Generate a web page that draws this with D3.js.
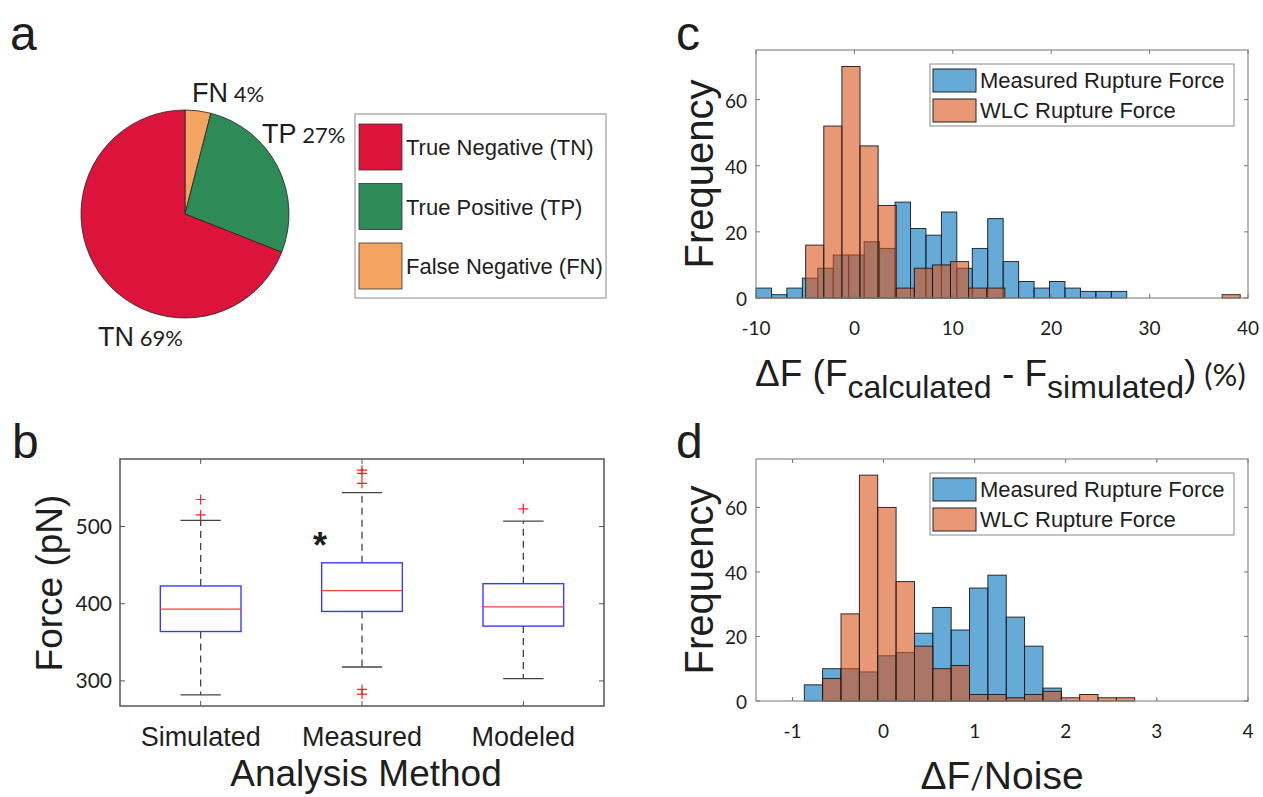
<!DOCTYPE html>
<html>
<head>
<meta charset="utf-8">
<script src="https://cdn.jsdelivr.net/npm/d3@7/dist/d3.min.js"></script>
<style>
  body { margin: 0; background: #fff; }
  text { fill: #1e1e1e; }
</style>
</head>
<body>
<div id="fig"></div>
<script>
// panel a
const pieKeys = ["FN", "TP", "TN"];
const pieValues = [4, 27, 69];
const legendKeys = ["TN", "TP", "FN"];
const legendLabels = ["True Negative (TN)", "True Positive (TP)", "False Negative (FN)"];

// panel b
const boxCategories = ["Simulated", "Measured", "Modeled"];
const boxQ1 = [364, 390, 371];
const boxMedian = [393, 417, 396];
const boxQ3 = [423, 453, 426];
const whiskerLow = [282, 318, 303];
const whiskerHigh = [508, 544, 507];
const boxOutliers = [[535, 515], [573, 569, 556, 289, 283], [523]];
const boxTicks = [300, 400, 500];

// panel c  (bin start, bin width, counts)
const cMeasuredStart = -10, cMeasuredWidth = 1.57;
const cMeasured = [3, 1, 3, 6, 9, 13, 13, 17, 15, 29, 21, 19, 26, 9, 15, 24, 11, 5, 3, 5, 3, 2, 2, 2];
const cWlcStart = -4.95, cWlcWidth = 1.84;
const cWlc = [16, 52, 70, 46, 28, 3, 9, 10, 11, 3, 3, 0, 0, 0, 0, 0, 0, 0, 0, 0, 0, 0, 0, 1];
const cTicksX = [-10, 0, 10, 20, 30, 40];

// panel d
const dMeasuredStart = -0.87, dMeasuredWidth = 0.2015;
const dMeasured = [5, 10, 10, 9, 14, 15, 21, 29, 22, 35, 39, 26, 17, 4];
const dWlcStart = -0.6685, dWlcWidth = 0.2015;
const dWlc = [7, 27, 70, 60, 37, 17, 10, 11, 2, 2, 1, 2, 3, 1, 2, 1, 1];
const dTicksX = [-1, 0, 1, 2, 3, 4];

const freqTicks = [0, 20, 40, 60];
const seriesNames = ["Measured Rupture Force", "WLC Rupture Force"];

const width = 1263, height = 797;
const sans = "'Liberation Sans', Arial, sans-serif";
const humanist = "Lato, 'Open Sans', sans-serif";

const svg = d3.select("#fig").append("svg")
  .attr("width", width)
  .attr("height", height)
  .style("display", "block");

svg.append("rect").attr("width", width).attr("height", height).attr("fill", "#fff");

function panelLetter(letter, x, y) {
  svg.append("text").attr("x", x).attr("y", y)
    .style("font-family", sans).style("font-size", "48px")
    .text(letter);
}

// ---------- a: pie ----------
panelLetter("a", 10, 50);

const pieColors = { TN: "#DC143C", TP: "#2E8B57", FN: "#F4A460" };
const pieR = 104;
const pieG = svg.append("g").attr("transform", "translate(185,214)");
const arcs = d3.pie().sort(null).value(d => d)(pieValues);
const arcGen = d3.arc().innerRadius(0).outerRadius(pieR);

pieG.selectAll("path")
  .data(arcs)
  .enter()
  .append("path")
  .attr("d", arcGen)
  .attr("fill", (d, i) => pieColors[pieKeys[i]])
  .attr("stroke", "#222")
  .attr("stroke-width", 0.8);

// label spots (hand placed like the figure)
const pieLabelPos = { FN: [192, 102], TP: [262, 143], TN: [98, 346] };
arcs.forEach((a, i) => {
  const k = pieKeys[i];
  const t = svg.append("text")
    .attr("x", pieLabelPos[k][0]).attr("y", pieLabelPos[k][1]);
  t.append("tspan").style("font-family", sans).style("font-size", "27px").text(k);
  t.append("tspan").style("font-family", humanist).style("font-size", "22px")
    .text(" " + pieValues[i] + "%");
});

// legend
const lg = svg.append("g");
lg.append("rect").attr("x", 355).attr("y", 114).attr("width", 251).attr("height", 184)
  .attr("fill", "#fff").attr("stroke", "#888").attr("stroke-width", 1);
legendKeys.forEach((k, i) => {
  const y0 = 124 + i * 59.5;
  lg.append("rect").attr("x", 359).attr("y", y0).attr("width", 43).attr("height", 46)
    .attr("fill", pieColors[k]).attr("stroke", "#333").attr("stroke-width", 0.8);
  lg.append("text").attr("x", 406).attr("y", y0 + 31)
    .style("font-family", sans).style("font-size", "22px")
    .text(legendLabels[i]);
});

// ---------- b: box plot ----------
panelLetter("b", 12, 458);

const bLeft = 120, bRight = 604, bTop = 459, bBottom = 706;
const bx = d3.scaleLinear().domain([0.5, 3.5]).range([bLeft, bRight]);
const by = d3.scaleLinear().domain([267.5, 587.5]).range([bBottom, bTop]);
const bG = svg.append("g");

// ticks inward on all sides
boxTicks.forEach(v => {
  bG.append("line").attr("x1", bLeft).attr("x2", bLeft + 5).attr("y1", by(v)).attr("y2", by(v))
    .attr("stroke", "#555");
  bG.append("line").attr("x1", bRight).attr("x2", bRight - 5).attr("y1", by(v)).attr("y2", by(v))
    .attr("stroke", "#555");
  bG.append("text").attr("x", bLeft - 8).attr("y", by(v) + 7).attr("text-anchor", "end")
    .style("font-family", humanist).style("font-size", "21px").text(v);
});
boxCategories.forEach((c, i) => {
  const cx = bx(i + 1);
  bG.append("line").attr("x1", cx).attr("x2", cx).attr("y1", bBottom).attr("y2", bBottom - 5).attr("stroke", "#555");
  bG.append("line").attr("x1", cx).attr("x2", cx).attr("y1", bTop).attr("y2", bTop + 5).attr("stroke", "#555");
  bG.append("text").attr("x", cx).attr("y", 746).attr("text-anchor", "middle")
    .style("font-family", sans).style("font-size", "27px").text(c);
});

boxCategories.forEach((c, i) => {
  const cx = bx(i + 1);
  const half = bx(1.25) - bx(1);
  const cap = bx(1.125) - bx(1);
  // whiskers
  [[boxQ3[i], whiskerHigh[i]], [boxQ1[i], whiskerLow[i]]].forEach(([a, b]) => {
    bG.append("line").attr("x1", cx).attr("x2", cx).attr("y1", by(a)).attr("y2", by(b))
      .attr("stroke", "#444").attr("stroke-width", 1.3).attr("stroke-dasharray", "7,5");
    bG.append("line").attr("x1", cx - cap).attr("x2", cx + cap).attr("y1", by(b)).attr("y2", by(b))
      .attr("stroke", "#444").attr("stroke-width", 1.3);
  });
  bG.append("rect").attr("x", cx - half).attr("width", 2 * half)
    .attr("y", by(boxQ3[i])).attr("height", by(boxQ1[i]) - by(boxQ3[i]))
    .attr("fill", "none").attr("stroke", "#3a3aff").attr("stroke-width", 1.4);
  bG.append("line").attr("x1", cx - half).attr("x2", cx + half)
    .attr("y1", by(boxMedian[i])).attr("y2", by(boxMedian[i]))
    .attr("stroke", "#ff3b3b").attr("stroke-width", 1.2);
  boxOutliers[i].forEach(v => {
    bG.append("path")
      .attr("d", `M${cx - 5},${by(v)}H${cx + 5}M${cx},${by(v) - 5}V${by(v) + 5}`)
      .attr("stroke", "#ff2020").attr("stroke-width", 1.2);
  });
});

bG.append("rect").attr("x", bLeft).attr("y", bTop).attr("width", bRight - bLeft).attr("height", bBottom - bTop)
  .attr("fill", "none").attr("stroke", "#555").attr("stroke-width", 1.5);

bG.append("text").attr("x", 320).attr("y", 558).attr("text-anchor", "middle")
  .style("font-family", sans).style("font-size", "36px").style("font-weight", "bold").text("*");

bG.append("text").attr("transform", "translate(62,583) rotate(-90)").attr("text-anchor", "middle")
  .style("font-family", sans).style("font-size", "37px").text("Force (pN)");
bG.append("text").attr("x", 366).attr("y", 786).attr("text-anchor", "middle")
  .style("font-family", sans).style("font-size", "37px").text("Analysis Method");

// ---------- c, d: histograms ----------
function histogram(o) {
  const x = d3.scaleLinear().domain(o.xDomain).range([o.left, o.right]);
  const y = d3.scaleLinear().domain([0, 75]).range([o.bottom, o.top]);
  const g = svg.append("g");

  const series = [
    { start: o.mStart, w: o.mWidth, counts: o.measured, color: "#0072BD" },
    { start: o.wStart, w: o.wWidth, counts: o.wlc, color: "#D95319" }
  ];
  series.forEach(s => {
    const bins = s.counts.map((c, i) => ({ x0: s.start + i * s.w, x1: s.start + (i + 1) * s.w, c: c }))
      .filter(b => b.c > 0);
    g.append("g").selectAll("rect")
      .data(bins)
      .enter()
      .append("rect")
      .attr("x", d => x(d.x0))
      .attr("width", d => x(d.x1) - x(d.x0))
      .attr("y", d => y(d.c))
      .attr("height", d => y(0) - y(d.c))
      .attr("fill", s.color)
      .attr("fill-opacity", 0.6)
      .attr("stroke", "#1a1a1a")
      .attr("stroke-width", 0.9);
  });

  // frame + inward ticks
  g.append("rect").attr("x", o.left).attr("y", o.top).attr("width", o.right - o.left).attr("height", o.bottom - o.top)
    .attr("fill", "none").attr("stroke", "#8a8a8a").attr("stroke-width", 1.2);
  o.xTicks.forEach(v => {
    g.append("line").attr("x1", x(v)).attr("x2", x(v)).attr("y1", o.bottom).attr("y2", o.bottom - 4).attr("stroke", "#777");
    g.append("line").attr("x1", x(v)).attr("x2", x(v)).attr("y1", o.top).attr("y2", o.top + 4).attr("stroke", "#777");
    g.append("text").attr("x", x(v)).attr("y", o.bottom + 37).attr("text-anchor", "middle")
      .style("font-family", humanist).style("font-size", "19px").text(v);
  });
  freqTicks.forEach(v => {
    g.append("line").attr("x1", o.left).attr("x2", o.left + 4).attr("y1", y(v)).attr("y2", y(v)).attr("stroke", "#777");
    g.append("line").attr("x1", o.right).attr("x2", o.right - 4).attr("y1", y(v)).attr("y2", y(v)).attr("stroke", "#777");
    g.append("text").attr("x", o.left - 9).attr("y", y(v) + 8).attr("text-anchor", "end")
      .style("font-family", humanist).style("font-size", "19px").text(v);
  });

  // legend
  const lx = 930, ly = o.top + 14;
  g.append("rect").attr("x", lx).attr("y", ly).attr("width", 304).attr("height", 62)
    .attr("fill", "#fff").attr("stroke", "#888");
  series.forEach((s, i) => {
    g.append("rect").attr("x", lx + 3).attr("y", ly + 5 + i * 30).attr("width", 43).attr("height", 23)
      .attr("fill", s.color).attr("fill-opacity", 0.6).attr("stroke", "#222");
    g.append("text").attr("x", lx + 50).attr("y", ly + 24 + i * 30)
      .style("font-family", sans).style("font-size", "22px").text(seriesNames[i]);
  });

  g.append("text").attr("transform", `translate(713,${(o.top + o.bottom) / 2}) rotate(-90)`).attr("text-anchor", "middle")
    .style("font-family", sans).style("font-size", "40px").text("Frequency");
  return g;
}

panelLetter("c", 676, 50);
const gc = histogram({
  left: 756, right: 1248, top: 50, bottom: 298, xDomain: [-10, 40], xTicks: cTicksX,
  mStart: cMeasuredStart, mWidth: cMeasuredWidth, measured: cMeasured,
  wStart: cWlcStart, wWidth: cWlcWidth, wlc: cWlc
});
const ct = gc.append("text").attr("x", 755).attr("y", 386).style("font-family", sans);
ct.append("tspan").style("font-size", "37px").text("\u0394F (F");
ct.append("tspan").style("font-size", "32px").attr("dy", 12).text("calculated");
ct.append("tspan").style("font-size", "37px").attr("dy", -12).text(" - F");
ct.append("tspan").style("font-size", "32px").attr("dy", 12).text("simulated");
ct.append("tspan").style("font-size", "37px").attr("dy", -12).text(")");
ct.append("tspan").style("font-size", "31px").style("font-family", humanist).text(" (%)");

panelLetter("d", 676, 458);
const gd = histogram({
  left: 756, right: 1248, top: 459, bottom: 701, xDomain: [-1.4, 4], xTicks: dTicksX,
  mStart: dMeasuredStart, mWidth: dMeasuredWidth, measured: dMeasured,
  wStart: dWlcStart, wWidth: dWlcWidth, wlc: dWlc
});
const dt = gd.append("text").attr("x", 1002).attr("y", 789).attr("text-anchor", "middle").style("font-family", sans);
dt.append("tspan").style("font-size", "39px").text("\u0394F");
dt.append("tspan").style("font-size", "30px").style("font-family", humanist).text("/");
dt.append("tspan").style("font-size", "39px").text("Noise");
</script>
</body>
</html>
